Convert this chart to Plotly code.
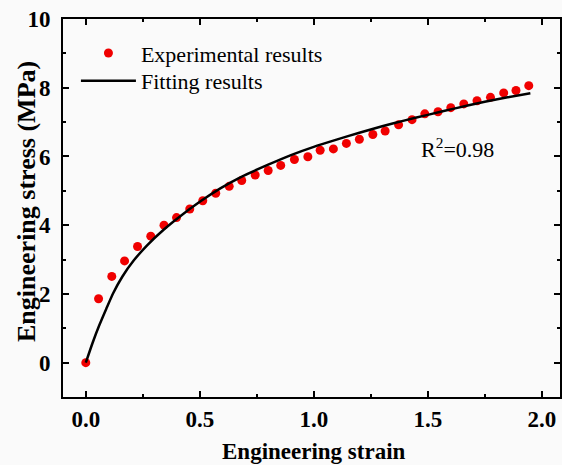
import plotly.graph_objects as go

# Experimental stress-strain points
strain_exp = [0.000, 0.056, 0.114, 0.170, 0.227, 0.285, 0.343, 0.398, 0.456, 0.513,
              0.570, 0.629, 0.684, 0.743, 0.800, 0.855, 0.915, 0.974, 1.028, 1.086,
              1.143, 1.200, 1.259, 1.313, 1.372, 1.431, 1.487, 1.545, 1.601, 1.658,
              1.716, 1.775, 1.833, 1.887, 1.943]
stress_exp = [0.00, 1.86, 2.51, 2.96, 3.38, 3.68, 4.00, 4.22, 4.47, 4.71,
              4.93, 5.13, 5.30, 5.46, 5.59, 5.74, 5.91, 5.99, 6.18, 6.22,
              6.38, 6.50, 6.64, 6.74, 6.92, 7.07, 7.24, 7.30, 7.42, 7.53,
              7.62, 7.72, 7.85, 7.92, 8.06]

# Fitted curve, sampled along strain
strain_fit = [0.00, 0.03, 0.06, 0.09, 0.12, 0.16, 0.21, 0.27, 0.34, 0.41,
              0.50, 0.59, 0.68, 0.80, 0.90, 1.00, 1.10, 1.20, 1.30, 1.40,
              1.50, 1.62, 1.75, 1.85, 1.95]
stress_fit = [0.00, 0.58, 1.10, 1.57, 2.02, 2.50, 2.97, 3.42, 3.86, 4.24,
              4.68, 5.07, 5.40, 5.76, 6.04, 6.28, 6.49, 6.69, 6.88, 7.05,
              7.21, 7.40, 7.59, 7.72, 7.84]

x_ticks = [0.0, 0.5, 1.0, 1.5, 2.0]
x_tick_labels = ["0.0", "0.5", "1.0", "1.5", "2.0"]
y_ticks = [0, 2, 4, 6, 8, 10]
y_tick_labels = ["0", "2", "4", "6", "8", "10"]

serif = "Liberation Serif, Times New Roman, serif"

fig = go.Figure()
fig.add_trace(go.Scatter(
    x=strain_exp, y=stress_exp, mode="markers", name="Experimental results",
    marker=dict(color="#f00000", size=9, line=dict(width=0)),
    legend="legend",
))
fig.add_trace(go.Scatter(
    x=strain_fit, y=stress_fit, mode="lines", name="Fitting results",
    line=dict(color="black", width=2.5, shape="spline", smoothing=0.6),
    legend="legend2",
))

fig.add_annotation(
    x=1.63, y=6.26, xref="x", yref="y",
    text="R<sup>2</sup>=0.98", showarrow=False,
    font=dict(family=serif, size=22, color="black"),
)

# Axis titles placed as paper-anchored text
fig.add_annotation(
    x=0.505, y=-0.145, xref="paper", yref="paper",
    xanchor="center", yanchor="middle", showarrow=False,
    text="Engineering strain",
    font=dict(family=serif, size=23, color="black", weight="bold"),
)
fig.add_annotation(
    x=-0.0724, y=0.516, xref="paper", yref="paper",
    xanchor="center", yanchor="middle", showarrow=False, textangle=-90,
    text="Engineering stress (MPa)",
    font=dict(family=serif, size=26, color="black", weight="bold"),
)

axis_common = dict(
    showline=True, linecolor="black", linewidth=2, mirror="ticks",
    ticks="inside", ticklen=6, tickwidth=2, tickcolor="black",
    showgrid=False, zeroline=False, automargin=False,
    tickfont=dict(family=serif, size=23, color="black", weight="bold"),
)

legend_common = dict(
    xanchor="left", yanchor="top",
    bgcolor="rgba(0,0,0,0)", borderwidth=0,
    font=dict(family=serif, size=22, color="black"),
    itemwidth=55,
)

fig.update_layout(
    width=562, height=465,
    margin=dict(l=63, r=2, t=19, b=68),
    paper_bgcolor="#fafafa", plot_bgcolor="#fafafa",
    showlegend=True,
    legend=dict(x=0.026, y=0.965, **legend_common),
    legend2=dict(x=0.026, y=0.8915, **legend_common),
    xaxis=dict(
        range=[-0.1, 2.08], tickvals=x_ticks, ticktext=x_tick_labels,
        minor=dict(ticks="inside", ticklen=3, tickwidth=2, tickcolor="black", dtick=0.25),
        **axis_common,
    ),
    yaxis=dict(
        range=[-1, 10], tickvals=y_ticks, ticktext=y_tick_labels,
        minor=dict(ticks="inside", ticklen=3, tickwidth=2, tickcolor="black", dtick=1),
        ticklabelstandoff=6,
        **axis_common,
    ),
)

fig.write_html("out.html")
